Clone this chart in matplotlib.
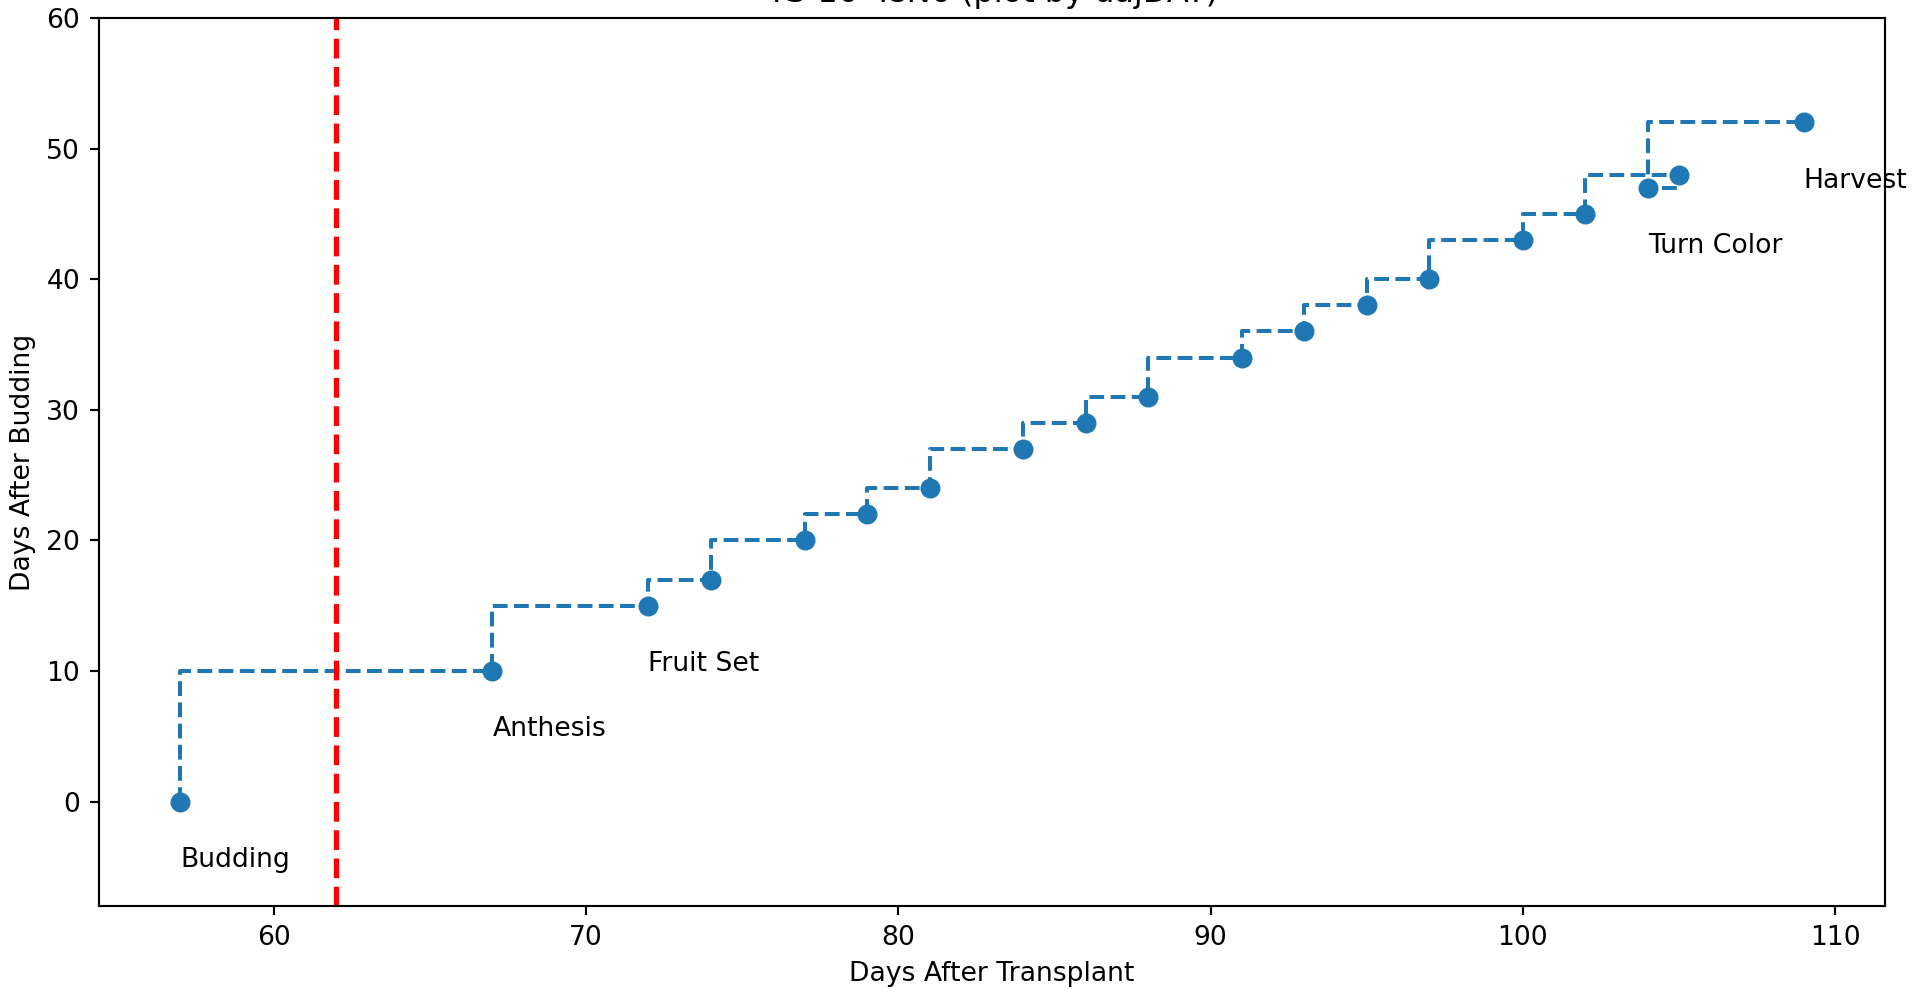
import matplotlib
matplotlib.use('Agg')
import matplotlib.pyplot as plt

# Dias após transplante (x) e dias após botão floral (y)
dat = [57, 67, 72, 74, 77, 79, 81, 84, 86, 88, 91, 93, 95, 97, 100, 102, 105, 104, 109]
dab = [0, 10, 15, 17, 20, 22, 24, 27, 29, 31, 34, 36, 38, 40, 43, 45, 48, 47, 52]

# Estádios marcados no gráfico
stage_names = ['Budding', 'Anthesis', 'Fruit Set', 'Turn Color', 'Harvest']
stage_idx = [0, 1, 2, 17, 18]

transplant_mark = 62

DPI = 192
fig = plt.figure(figsize=(1917 / DPI, 990 / DPI), dpi=DPI)
fig.subplots_adjust(left=0.0516, right=0.9833, top=0.9818, bottom=0.0848)
ax = fig.add_subplot(111)

ax.step(dat, dab, where='pre', linestyle='--', linewidth=1.5, color='#1f77b4')
ax.plot(dat, dab, 'o', markersize=6.5, color='#1f77b4')

for name, i in zip(stage_names, stage_idx):
    ax.text(dat[i], dab[i] - 5, name, fontsize=10)

ax.axvline(transplant_mark, color='red', linestyle='--', linewidth=2)

ax.set_ylim(-8, 60)
ax.set_title('TS-16-4sN6 (plot by dajDAT)')
ax.set_xlabel('Days After Transplant')
ax.set_ylabel('Days After Budding')

fig.savefig('out.png', dpi=DPI)
